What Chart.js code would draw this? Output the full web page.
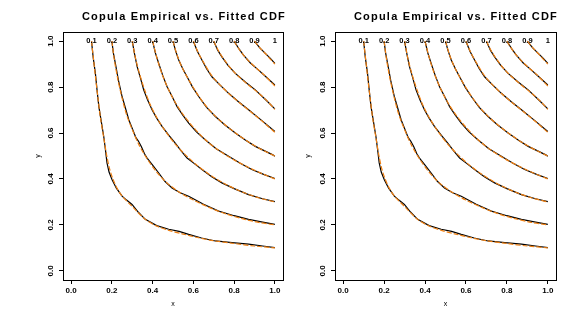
<!DOCTYPE html>
<html>
<head>
<meta charset="utf-8">
<script src="https://cdn.jsdelivr.net/npm/chart.js@4/dist/chart.umd.min.js"></script>
<style>
body { margin: 0; background: #fff; }
#wrap { position: relative; width: 578px; height: 316px; }
canvas { position: absolute; top: 0; }
</style>
</head>
<body>
<div id="wrap">
  <canvas id="leftChart" width="289" height="316" style="left:0"></canvas>
  <canvas id="rightChart" width="289" height="316" style="left:289px"></canvas>
</div>
<script>
// contour levels and their labels along the top edge
const levels = [0.1, 0.2, 0.3, 0.4, 0.5, 0.6, 0.7, 0.8, 0.9, 1];
const levelLabels = ['0.1', '0.2', '0.3', '0.4', '0.5', '0.6', '0.7', '0.8', '0.9', '1'];

// axis ticks
const tickValues = [0, 0.2, 0.4, 0.6, 0.8, 1.0];
const tickLabels = ['0.0', '0.2', '0.4', '0.6', '0.8', '1.0'];

// empirical copula contours (x, y)
const emp1 = [[0.1,1.0],[0.108,0.93],[0.119,0.86],[0.128,0.78],[0.136,0.715],[0.148,0.65],[0.16,0.585],[0.168,0.53],[0.176,0.47],[0.186,0.43],[0.201,0.397],[0.222,0.36],[0.25,0.325],[0.272,0.308],[0.299,0.289],[0.33,0.255],[0.364,0.224],[0.42,0.197],[0.479,0.181],[0.53,0.172],[0.577,0.159],[0.64,0.143],[0.708,0.13],[0.79,0.123],[0.871,0.116],[0.94,0.108],[1.0,0.101]];
const emp2 = [[0.2,1.0],[0.207,0.95],[0.217,0.903],[0.232,0.83],[0.25,0.759],[0.266,0.71],[0.283,0.658],[0.3,0.62],[0.318,0.58],[0.33,0.565],[0.345,0.54],[0.36,0.51],[0.373,0.491],[0.4,0.46],[0.43,0.426],[0.46,0.39],[0.495,0.361],[0.535,0.34],[0.577,0.325],[0.65,0.29],[0.724,0.26],[0.8,0.24],[0.871,0.224],[0.94,0.212],[1.0,0.202]];
const emp3 = [[0.3,1.0],[0.31,0.95],[0.324,0.889],[0.34,0.84],[0.356,0.788],[0.375,0.745],[0.397,0.701],[0.42,0.665],[0.446,0.629],[0.48,0.59],[0.511,0.556],[0.54,0.522],[0.569,0.491],[0.6,0.47],[0.642,0.441],[0.69,0.41],[0.74,0.383],[0.8,0.358],[0.871,0.332],[0.94,0.314],[1.0,0.301]];
const emp4 = [[0.4,1.0],[0.413,0.95],[0.43,0.903],[0.45,0.85],[0.471,0.802],[0.495,0.76],[0.52,0.715],[0.548,0.678],[0.577,0.643],[0.615,0.605],[0.658,0.571],[0.712,0.532],[0.773,0.499],[0.83,0.468],[0.887,0.441],[0.945,0.42],[1.0,0.402]];
const emp5 = [[0.5,1.0],[0.512,0.96],[0.528,0.918],[0.548,0.88],[0.569,0.845],[0.596,0.8],[0.626,0.759],[0.665,0.712],[0.708,0.672],[0.755,0.635],[0.806,0.6],[0.855,0.57],[0.904,0.542],[0.955,0.52],[0.99,0.505],[1.0,0.499]];
const emp6 = [[0.6,1.0],[0.62,0.955],[0.642,0.918],[0.665,0.88],[0.691,0.845],[0.73,0.81],[0.773,0.773],[0.82,0.737],[0.871,0.701],[0.935,0.655],[1.0,0.607]];
const emp7 = [[0.7,1.0],[0.72,0.96],[0.74,0.932],[0.77,0.895],[0.806,0.86],[0.855,0.822],[0.904,0.788],[0.955,0.745],[1.0,0.705]];
const emp8 = [[0.8,1.0],[0.825,0.965],[0.846,0.939],[0.88,0.905],[0.92,0.874],[0.96,0.842],[1.0,0.809]];
const emp9 = [[0.9,1.0],[0.925,0.972],[0.953,0.947],[0.978,0.925],[1.0,0.903]];

// fitted copula contours (x, y)
const fit1 = [[0.1,1.0],[0.11,0.92],[0.12,0.84],[0.132,0.75],[0.145,0.66],[0.16,0.58],[0.175,0.5],[0.19,0.44],[0.205,0.4],[0.225,0.36],[0.25,0.326],[0.3,0.28],[0.364,0.224],[0.42,0.195],[0.48,0.176],[0.55,0.16],[0.62,0.145],[0.7,0.131],[0.8,0.119],[0.9,0.108],[1.0,0.1]];
const fit2 = [[0.2,1.0],[0.212,0.92],[0.228,0.84],[0.248,0.76],[0.272,0.68],[0.3,0.615],[0.335,0.545],[0.375,0.485],[0.42,0.43],[0.47,0.383],[0.53,0.343],[0.6,0.308],[0.68,0.275],[0.76,0.248],[0.84,0.227],[0.92,0.211],[1.0,0.2]];
const fit3 = [[0.3,1.0],[0.315,0.93],[0.335,0.86],[0.36,0.79],[0.39,0.72],[0.425,0.66],[0.465,0.605],[0.51,0.553],[0.56,0.506],[0.62,0.458],[0.69,0.413],[0.76,0.376],[0.84,0.343],[0.92,0.318],[1.0,0.3]];
const fit4 = [[0.4,1.0],[0.42,0.93],[0.445,0.86],[0.475,0.795],[0.51,0.735],[0.55,0.68],[0.6,0.625],[0.655,0.574],[0.72,0.527],[0.79,0.488],[0.86,0.455],[0.93,0.426],[1.0,0.4]];
const fit5 = [[0.5,1.0],[0.52,0.94],[0.545,0.885],[0.575,0.835],[0.61,0.783],[0.65,0.731],[0.7,0.68],[0.755,0.636],[0.815,0.595],[0.88,0.556],[0.94,0.526],[1.0,0.5]];
const fit6 = [[0.6,1.0],[0.625,0.948],[0.655,0.9],[0.69,0.85],[0.73,0.81],[0.775,0.771],[0.825,0.733],[0.88,0.694],[0.94,0.65],[1.0,0.603]];
const fit7 = [[0.7,1.0],[0.725,0.955],[0.755,0.915],[0.79,0.875],[0.83,0.84],[0.875,0.806],[0.925,0.77],[0.965,0.737],[1.0,0.703]];
const fit8 = [[0.8,1.0],[0.83,0.958],[0.865,0.92],[0.905,0.886],[0.95,0.851],[1.0,0.805]];
const fit9 = [[0.9,1.0],[0.93,0.968],[0.965,0.935],[1.0,0.9]];

const empirical = [emp1, emp2, emp3, emp4, emp5, emp6, emp7, emp8, emp9];
const fitted = [fit1, fit2, fit3, fit4, fit5, fit6, fit7, fit8, fit9];

const titleText = 'Copula Empirical vs. Fitted CDF';
const FONT = "'Liberation Sans', Arial, sans-serif";
const ORANGE = '#EE7F12';

function toPoints(arr) {
    return arr.map(p => ({ x: p[0], y: p[1] }));
}

// box, contour labels and main title
const decorPlugin = {
    id: 'decor',
    afterDraw(chart, args, opts) {
        const ctx = chart.ctx;
        const a = chart.chartArea;
        const xs = chart.scales.x, ys = chart.scales.y;
        ctx.save();
        ctx.strokeStyle = '#000';
        ctx.lineWidth = 1;
        ctx.strokeRect(Math.round(a.left) + 0.5, Math.round(a.top) + 0.5,
            Math.round(a.right - a.left), Math.round(a.bottom - a.top));

        ctx.fillStyle = '#000';
        ctx.font = 'bold 7.5px ' + FONT;
        ctx.textAlign = 'center';
        ctx.textBaseline = 'middle';
        levels.forEach((lv, i) => {
            ctx.fillText(levelLabels[i], xs.getPixelForValue(lv), ys.getPixelForValue(1.0));
        });

        ctx.font = 'bold 11px ' + FONT;
        ctx.textBaseline = 'alphabetic';
        if ('letterSpacing' in ctx) ctx.letterSpacing = '1.2px';
        ctx.fillText(titleText, (a.left + a.right) / 2 + opts.titleShift, 19.5);
        ctx.restore();
    }
};

function makePanel(id, padLeft, yWidth, padRight, titleShift) {
    const datasets = [];
    empirical.forEach(c => {
        datasets.push({
            data: toPoints(c),
            showLine: true,
            borderColor: '#000',
            borderWidth: 1.2,
            pointRadius: 0,
            tension: 0,
            order: 2
        });
    });
    // fitted curves go on top, dashed so the black shows through
    fitted.forEach(c => {
        datasets.push({
            data: toPoints(c),
            showLine: true,
            borderColor: ORANGE,
            borderWidth: 1.2,
            borderDash: [5, 2],
            pointRadius: 0,
            tension: 0.3,
            order: 1
        });
    });

    const axisCommon = {
        type: 'linear',
        min: -0.04,
        max: 1.04,
        afterBuildTicks: s => { s.ticks = tickValues.map(v => ({ value: v })); },
        grid: { drawOnChartArea: false, drawTicks: true, tickLength: 4, color: '#000' },
        border: { display: true, color: '#000' }
    };

    new Chart(document.getElementById(id), {
        type: 'scatter',
        data: { datasets: datasets },
        options: {
            responsive: false,
            animation: false,
            events: [],
            layout: { padding: { left: padLeft, right: padRight, top: 32, bottom: 0 } },
            plugins: {
                legend: { display: false },
                tooltip: { enabled: false },
                decor: { titleShift: titleShift }
            },
            scales: {
                x: Object.assign({}, axisCommon, {
                    position: 'bottom',
                    afterFit: s => { s.height = 36; },
                    ticks: {
                        color: '#000',
                        font: { family: FONT, size: 8, weight: 'bold' },
                        padding: 2,
                        minRotation: 0,
                        maxRotation: 0,
                        autoSkip: false,
                        callback: (v, i) => tickLabels[i]
                    },
                    title: {
                        display: true,
                        text: 'x',
                        color: '#000',
                        font: { family: FONT, size: 7 },
                        padding: { top: 0, bottom: 8 }
                    }
                }),
                y: Object.assign({}, axisCommon, {
                    position: 'left',
                    afterFit: s => { s.width = yWidth; },
                    ticks: {
                        color: '#000',
                        font: { family: FONT, size: 8, weight: 'bold' },
                        padding: 3,
                        minRotation: 90,
                        maxRotation: 90,
                        crossAlign: 'center',
                        autoSkip: false,
                        callback: (v, i) => tickLabels[i]
                    },
                    title: {
                        display: true,
                        text: 'y',
                        color: '#000',
                        font: { family: FONT, size: 7 },
                        padding: { top: 0, bottom: 0 }
                    }
                })
            }
        },
        plugins: [decorPlugin]
    });
}

makePanel('leftChart', 34, 29, 6, 11);
makePanel('rightChart', 15, 31, 22, 10.5);
</script>
</body>
</html>
